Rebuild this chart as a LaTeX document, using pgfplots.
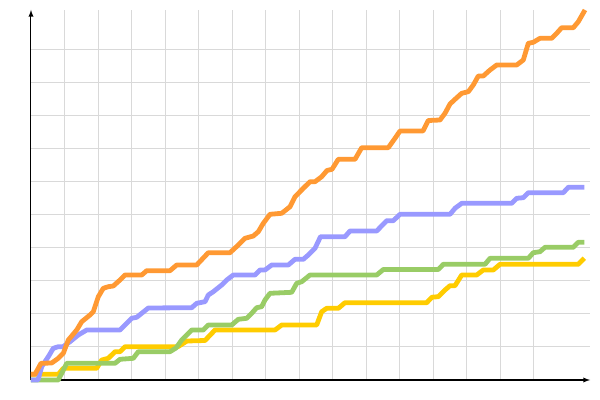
\documentclass[border=0pt]{standalone}
\usepackage{pgfplots}
\pgfplotsset{compat=1.18}
\definecolor{lineorange}{RGB}{255,153,51}
\definecolor{lineblue}{RGB}{153,153,255}
\definecolor{linegreen}{RGB}{153,204,102}
\definecolor{lineyellow}{RGB}{255,204,0}
\definecolor{gridgray}{RGB}{217,217,217}

\begin{document}
\begin{tikzpicture}
    \begin{axis}[
        scale only axis,
        width=419.25pt,
        height=277.5pt,
        xmin=0, xmax=559,
        ymin=0, ymax=370,
        axis lines=left,
        axis line style={-latex, line width=0.75pt, black},
        xtick={33.5,67,...,503},
        ytick={33,66,...,331},
        xticklabels={}, yticklabels={},
        major tick length=0pt,
        grid=major,
        major grid style={line width=0.75pt, draw=gridgray},
        clip=false,
        every axis plot/.append style={line width=3.6pt, line join=round},
    ]
    % invisible frame: gives the page the reference's margins
    \path (axis cs:-31,-20) rectangle (axis cs:569,380);

    \addplot[lineyellow, mark=none] coordinates {
        (0,5.7) (27.3,5.7) (32.3,11.7) (65.7,11.7) (70.7,20) (77.3,21.7)
        (84,28.3) (89,28.3) (94,33.3) (147,33.3) (156,39) (174,39.5)
        (184,50) (244,50) (250.7,55) (285.7,55) (290.7,68.3) (295.7,71.7)
        (307.3,71.7) (314,77.3) (395.7,77.3) (401,82.8) (407.3,83.3)
        (414,90) (419,94.3) (424,94.3) (430.7,105) (445.7,105) (452.3,110)
        (462.3,110) (469,115.7) (547.3,115.7) (553.3,121.7)
    };
    \addplot[linegreen, mark=none] coordinates {
        (0,0) (27.3,0) (35.7,16.7) (84,16.7) (89,20.7) (102.3,21.7)
        (107.3,28.3) (139,28.3) (145,32) (150.7,40) (160.7,50) (172.3,50)
        (177.3,55) (200.7,55) (207.3,60.7) (215.7,61.7) (220.7,66.7)
        (225.7,72.3) (230.7,73.3) (234,80) (239,86.7) (260.7,87.7)
        (265.7,96.7) (270.7,98.3) (279,105) (345.7,105) (352.3,110.5)
        (407.3,110.5) (412.3,115.7) (454,115.7) (459,121.7) (497.3,121.7)
        (502.3,127.3) (509,128.3) (514,132.7) (542.3,132.7) (547.3,137.7)
        (553.3,137.7)
    };
    \addplot[lineblue, mark=none] coordinates {
        (0,0) (7,0) (10.7,13.3) (17.3,23.3) (22.3,31.7) (27.3,33.3)
        (32,33.3) (39,38.3) (47.3,45) (55.7,50) (89,50) (94,55)
        (100.7,61.7) (105.7,62.7) (110.7,66.7) (117.3,72) (160.7,72.3)
        (165.7,76.7) (174,78.3) (177.3,85) (182.3,88.3) (190.7,95)
        (195.7,100) (202.3,105) (224,105) (229,110) (234,110) (240.7,115)
        (257.3,115) (264,120.7) (272.3,120.7) (277.3,125) (284,131.7)
        (289.5,143.3) (314,143.3) (319,149) (345.7,149) (355.7,159.3)
        (362.3,159.3) (369,165.7) (419,165.7) (424,171.7) (430.7,176.7)
        (480.7,176.7) (485.7,181.7) (492.3,182.3) (497.3,187.3)
        (532.3,187.3) (537.3,192.7) (553.3,192.7)
    };
    \addplot[lineorange, mark=none] coordinates {
        (0,5.7) (4,5.7) (10,16.7) (20.7,17) (27.3,21.7) (32.3,26.7)
        (37.3,40) (40.7,44) (45.7,50) (50.7,58.3) (59,65) (62.3,68.3)
        (67.3,83.3) (72.3,91.7) (77.3,93.3) (82.3,94) (89,100) (94,105)
        (110.7,105) (115.7,109.3) (139,109.3) (145.7,115) (165.7,115)
        (177.3,127.3) (199,127.3) (207.3,135) (214,141.7) (222.3,144)
        (227.3,148.3) (232.3,156.7) (239,165.7) (250.7,166.7) (259,173.3)
        (264,183.3) (272.3,191.7) (279,198.3) (284,198.3) (290.7,203.3)
        (296,209.5) (301,210.7) (307.3,220.7) (324,220.7) (330.7,232.3)
        (357.3,232.3) (364,241.7) (369,249) (392,249) (397.3,259.5)
        (409,260) (414,266.7) (419,276) (424,280.7) (430.7,286.7)
        (437.3,288.3) (442.3,295) (447.3,304) (452.3,304) (459,310)
        (465.7,315) (485.7,315) (492.3,320) (497.3,336.7) (502.3,337.7)
        (509,341.7) (520.7,341.7) (525.7,346.7) (530.7,352.3) (542.3,352.3)
        (547.3,358.3) (554,370)
    };
    \end{axis}
\end{tikzpicture}
\end{document}
